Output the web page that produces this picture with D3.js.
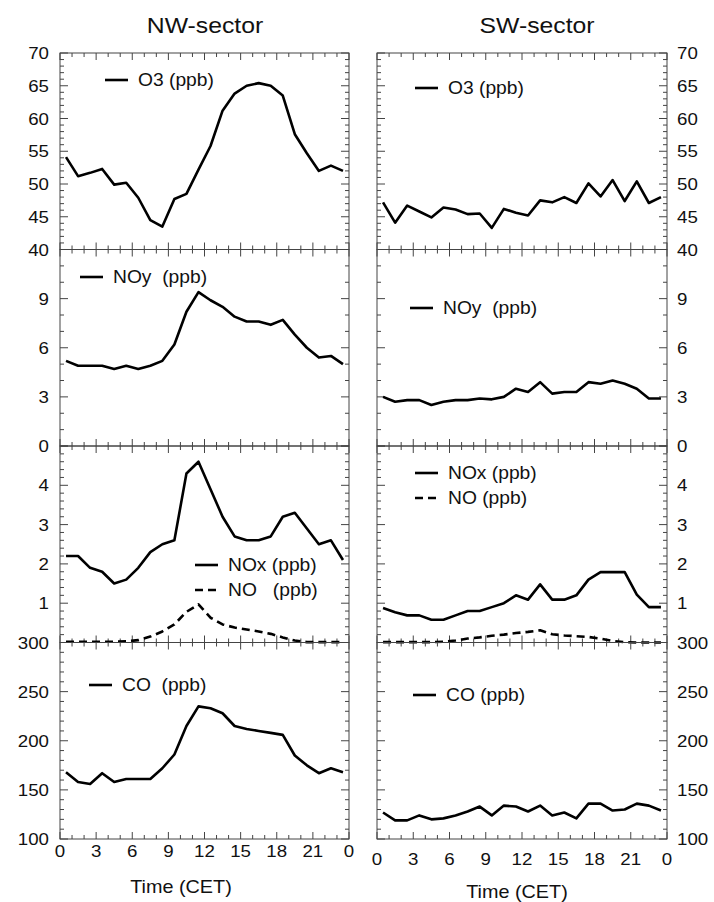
<!DOCTYPE html>
<html>
<head>
<meta charset="utf-8">
<script src="https://cdn.jsdelivr.net/npm/d3@7"></script>
<style>
  body { margin: 0; background: #fff; }
  svg { display: block; font-family: "Liberation Sans", Arial, Helvetica, sans-serif; }
  text { white-space: pre; fill: #111; }
</style>
</head>
<body>
<svg id="chart" width="714" height="902"></svg>
<script>
// hour of day (CET) for each hourly mean
const hours = [0.5, 1.5, 2.5, 3.5, 4.5, 5.5, 6.5, 7.5, 8.5, 9.5, 10.5, 11.5,
  12.5, 13.5, 14.5, 15.5, 16.5, 17.5, 18.5, 19.5, 20.5, 21.5, 22.5, 23.5];

// NW-sector
const nwO3 = [54.1, 51.2, 51.7, 52.3, 49.9, 50.2, 47.9, 44.5, 43.5, 47.7, 48.5, 52.2,
  55.8, 61.2, 63.8, 65.0, 65.4, 65.0, 63.5, 57.6, 54.7, 52.0, 52.8, 52.0];
const nwNOy = [5.2, 4.9, 4.9, 4.9, 4.7, 4.9, 4.7, 4.9, 5.2, 6.2, 8.2, 9.4,
  8.9, 8.5, 7.9, 7.6, 7.6, 7.4, 7.7, 6.8, 6.0, 5.4, 5.5, 5.0];
const nwNOx = [2.2, 2.2, 1.9, 1.8, 1.5, 1.6, 1.9, 2.3, 2.5, 2.6, 4.3, 4.6,
  3.9, 3.2, 2.7, 2.6, 2.6, 2.7, 3.2, 3.3, 2.9, 2.5, 2.6, 2.1];
const nwNO = [0.02, 0.02, 0.02, 0.02, 0.02, 0.03, 0.06, 0.15, 0.28, 0.46, 0.78, 0.97,
  0.63, 0.46, 0.38, 0.33, 0.28, 0.22, 0.13, 0.05, 0.01, 0.01, 0.01, 0.01];
const nwCO = [168, 158, 156, 167, 158, 161, 161, 161, 172, 186, 215, 235,
  233, 228, 215, 212, 210, 208, 206, 185, 175, 167, 172, 168];

// SW-sector
const swO3 = [47.2, 44.1, 46.7, 45.8, 44.9, 46.4, 46.1, 45.4, 45.5, 43.3, 46.2, 45.6,
  45.2, 47.5, 47.2, 48.0, 47.1, 50.1, 48.1, 50.6, 47.4, 50.4, 47.1, 48.0];
const swNOy = [3.0, 2.7, 2.8, 2.8, 2.5, 2.7, 2.8, 2.8, 2.9, 2.85, 3.0, 3.5,
  3.3, 3.9, 3.2, 3.3, 3.3, 3.9, 3.8, 4.0, 3.8, 3.5, 2.9, 2.9];
const swNOx = [0.88, 0.77, 0.69, 0.69, 0.58, 0.58, 0.69, 0.8, 0.8, 0.9, 1.0, 1.2,
  1.09, 1.48, 1.09, 1.09, 1.2, 1.6, 1.79, 1.79, 1.79, 1.22, 0.9, 0.9];
const swNO = [0.01, 0.01, 0.01, 0.01, 0.01, 0.02, 0.05, 0.1, 0.13, 0.17, 0.2, 0.24,
  0.27, 0.31, 0.21, 0.18, 0.16, 0.14, 0.1, 0.04, 0.01, 0.0, 0.0, 0.0];
const swCO = [127, 119, 119, 124, 120, 121, 124, 128, 133, 124, 134, 133,
  128, 134, 124, 127, 121, 136, 136, 129, 130, 136, 134, 129];

// axis ticks
const xTicks = [0, 3, 6, 9, 12, 15, 18, 21, 24];
const xTickLabels = ["0", "3", "6", "9", "12", "15", "18", "21", "0"];
const o3Labels = [40, 45, 50, 55, 60, 65, 70];
const noyLabels = [0, 3, 6, 9];
const noxLabels = [1, 2, 3, 4];
const coLabels = [100, 150, 200, 250, 300];

const svg = d3.select("#chart");

const rowTop = [53, 249.5, 446, 642.5];
const rowH = 196.5;
const stretch = 1.1; // the printed lettering is a little wider than Arial

const rows = [
  { domain: [40, 70], labels: o3Labels, major: 5, minor: 1 },
  { domain: [0, 12], labels: noyLabels, major: 3, minor: 1 },
  { domain: [0, 5], labels: noxLabels, major: 1, minor: 0.2 },
  { domain: [100, 300], labels: coLabels, major: 50, minor: 10 },
];

const cols = [
  {
    title: "NW-sector", titleX: 205, x0: 60, x1: 349, side: "left", labelX: 49,
    xLabelY: 857, axisTitleX: 181, axisTitleY: 893,
    series: [[nwO3], [nwNOy], [nwNOx, nwNO], [nwCO]],
    legends: [
      [{ text: "O3 (ppb)", x: 105, y: 80 }],
      [{ text: "NOy  (ppb)", x: 80, y: 277 }],
      [{ text: "NOx (ppb)", x: 195, y: 565 }, { text: "NO   (ppb)", x: 195, y: 590, dash: true }],
      [{ text: "CO  (ppb)", x: 89, y: 685 }],
    ],
  },
  {
    title: "SW-sector", titleX: 537, x0: 377, x1: 667, side: "right", labelX: 677,
    xLabelY: 865, axisTitleX: 517, axisTitleY: 898,
    series: [[swO3], [swNOy], [swNOx, swNO], [swCO]],
    legends: [
      [{ text: "O3 (ppb)", x: 415, y: 88 }],
      [{ text: "NOy  (ppb)", x: 410, y: 308 }],
      [{ text: "NOx (ppb)", x: 415, y: 473 }, { text: "NO (ppb)", x: 415, y: 498, dash: true }],
      [{ text: "CO (ppb)", x: 413, y: 695 }],
    ],
  },
];

const frameColor = "#444";

// text placed with a slight horizontal stretch about its anchor
function label(g, x, y, str, size, anchor, dy) {
  return g.append("text")
    .attr("transform", `translate(${x},${y}) scale(${stretch},1)`)
    .attr("dy", dy || null)
    .attr("text-anchor", anchor || "start")
    .style("font-size", size + "px")
    .text(str);
}

cols.forEach((col) => {
  const x = d3.scaleLinear().domain([0, 24]).range([col.x0, col.x1]);

  label(svg, col.titleX, 33, col.title, 22.5, "middle");

  rows.forEach((row, ri) => {
    const top = rowTop[ri];
    const bottom = top + rowH;
    const y = d3.scaleLinear().domain(row.domain).range([bottom, top]);
    const g = svg.append("g");

    // frame
    g.append("rect")
      .attr("x", col.x0).attr("y", top)
      .attr("width", col.x1 - col.x0).attr("height", rowH)
      .attr("fill", "none").attr("stroke", frameColor).attr("stroke-width", 1);

    // y ticks on both sides, inward
    const yMinor = d3.range(row.domain[0], row.domain[1] + 1e-9, row.minor);
    yMinor.forEach((v) => {
      const isMajor = Math.abs(v / row.major - Math.round(v / row.major)) < 1e-6;
      const len = isMajor ? 8 : 4;
      const yy = y(v);
      g.append("line").attr("x1", col.x0).attr("x2", col.x0 + len)
        .attr("y1", yy).attr("y2", yy).attr("stroke", frameColor);
      g.append("line").attr("x1", col.x1).attr("x2", col.x1 - len)
        .attr("y1", yy).attr("y2", yy).attr("stroke", frameColor);
    });

    // x ticks on top and bottom, inward
    d3.range(0, 25, 1).forEach((h) => {
      const len = h % 3 === 0 ? 7 : 4;
      const xx = x(h);
      g.append("line").attr("x1", xx).attr("x2", xx)
        .attr("y1", top).attr("y2", top + len).attr("stroke", frameColor);
      g.append("line").attr("x1", xx).attr("x2", xx)
        .attr("y1", bottom).attr("y2", bottom - len).attr("stroke", frameColor);
    });

    // y tick labels
    row.labels.forEach((d) => {
      label(g, col.labelX, y(d), String(d), 17,
        col.side === "left" ? "end" : "start", "0.36em");
    });

    // data lines
    const line = d3.line().x((d, i) => x(hours[i])).y((d) => y(d));
    col.series[ri].forEach((s, si) => {
      g.append("path")
        .datum(s)
        .attr("d", line)
        .attr("fill", "none")
        .attr("stroke", "#000")
        .attr("stroke-width", 2.6)
        .attr("stroke-linejoin", "round")
        .attr("stroke-dasharray", si === 1 ? "8,5" : null);
    });

    // legends
    col.legends[ri].forEach((lg) => {
      g.append("line")
        .attr("x1", lg.x).attr("x2", lg.x + 23)
        .attr("y1", lg.y).attr("y2", lg.y)
        .attr("stroke", "#000").attr("stroke-width", 2.6)
        .attr("stroke-dasharray", lg.dash ? "8,5" : null);
      label(g, lg.x + 33, lg.y, lg.text, 17.5, "start", "0.36em");
    });

    // x labels below the last row
    if (ri === rows.length - 1) {
      xTicks.forEach((d, i) => {
        label(g, x(d), col.xLabelY, xTickLabels[i], 17, "middle");
      });
      label(g, col.axisTitleX, col.axisTitleY, "Time (CET)", 18, "middle");
    }
  });
});
</script>
</body>
</html>
